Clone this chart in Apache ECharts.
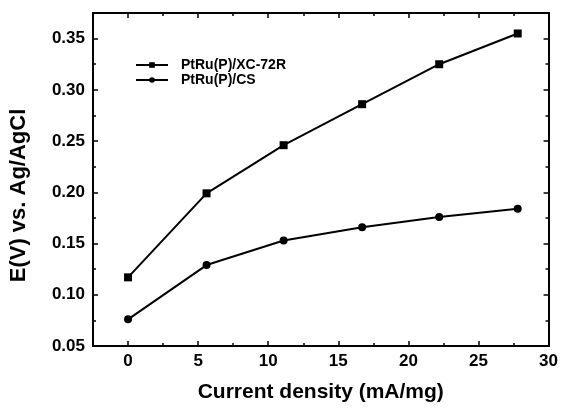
<!DOCTYPE html>
<html>
<head>
<meta charset="utf-8">
<script src="https://cdn.jsdelivr.net/npm/echarts@6/dist/echarts.min.js"></script>
<style>html,body{margin:0;padding:0;background:#fff}#c{width:561px;height:408px}</style>
</head>
<body>
<div id="c"></div>
<script>
const xValues = [0, 5.6, 11.1, 16.7, 22.2, 27.8];
const seriesXC72R = [0.117, 0.199, 0.246, 0.286, 0.325, 0.355];
const seriesCS = [0.076, 0.129, 0.153, 0.166, 0.176, 0.184];
const seriesNames = ['PtRu(P)/XC-72R', 'PtRu(P)/CS'];
const xTicks = [0, 5, 10, 15, 20, 25, 30];
const xMinorTicks = [-2.5, 2.5, 7.5, 12.5, 17.5, 22.5, 27.5];
const yTicks = [0.05, 0.10, 0.15, 0.20, 0.25, 0.30, 0.35];
const yMinorTicks = [0.075, 0.125, 0.175, 0.225, 0.275, 0.325, 0.375];

const FONT = 'Liberation Sans, Arial, sans-serif';
const X_MIN = -2.5, X_MAX = 30, Y_MIN = 0.05, Y_MAX = 0.375;

function xAx(pos, vals, len, opts) {
  return Object.assign({
    type: 'value', position: pos, min: X_MIN, max: X_MAX,
    axisLine: { show: true, onZero: false, lineStyle: { color: '#000', width: 2 } },
    axisTick: { show: true, inside: true, length: len, customValues: vals, lineStyle: { color: '#000', width: 1.5 } },
    axisLabel: { show: false },
    splitLine: { show: false }
  }, opts || {});
}
function yAx(pos, vals, len, opts) {
  return Object.assign({
    type: 'value', position: pos, min: Y_MIN, max: Y_MAX,
    axisLine: { show: true, onZero: false, lineStyle: { color: '#000', width: 2 } },
    axisTick: { show: true, inside: true, length: len, customValues: vals, lineStyle: { color: '#000', width: 1.5 } },
    axisLabel: { show: false },
    splitLine: { show: false }
  }, opts || {});
}

const chart = echarts.init(document.getElementById('c'), null, { renderer: 'canvas' });
chart.setOption({
  animation: false,
  backgroundColor: '#fff',
  grid: { left: 92, right: 10, top: 13, bottom: 58, containLabel: false },
  legend: {
    left: 135, top: 58, orient: 'vertical', padding: 0,
    itemWidth: 32, itemHeight: 7, itemGap: 1,
    textStyle: { fontFamily: FONT, fontSize: 14, fontWeight: 'bold', color: '#000', padding: [0, 0, 0, 8] },
    data: seriesNames
  },
  xAxis: [
    xAx('bottom', xTicks, 5, {
      name: 'Current density (mA/mg)', nameLocation: 'middle', nameGap: 36,
      nameTextStyle: { fontFamily: FONT, fontSize: 21, fontWeight: 'bold', color: '#000' },
      axisLabel: { show: true, customValues: xTicks, margin: 7, fontFamily: FONT, fontSize: 17, fontWeight: 'bold', color: '#000' }
    }),
    xAx('bottom', xMinorTicks, 3),
    xAx('top', xTicks, 5),
    xAx('top', xMinorTicks, 3)
  ],
  yAxis: [
    yAx('left', yTicks, 5, {
      name: 'E(V) vs. Ag/AgCl', nameLocation: 'middle', nameGap: 63, nameRotate: 90,
      nameTextStyle: { fontFamily: FONT, fontSize: 22, fontWeight: 'bold', color: '#000', padding: [0, 32, 0, 0] },
      axisLabel: { show: true, customValues: yTicks, margin: 8, fontFamily: FONT, fontSize: 17, fontWeight: 'bold', color: '#000',
        formatter: v => v.toFixed(2) }
    }),
    yAx('left', yMinorTicks, 3),
    yAx('right', yTicks, 5),
    yAx('right', yMinorTicks, 3)
  ],
  series: [
    {
      name: seriesNames[0], type: 'line', xAxisIndex: 0, yAxisIndex: 0,
      data: xValues.map((x, i) => [x, seriesXC72R[i]]),
      symbol: 'rect', symbolSize: 8,
      lineStyle: { color: '#000', width: 2 },
      itemStyle: { color: '#000' }
    },
    {
      name: seriesNames[1], type: 'line', xAxisIndex: 0, yAxisIndex: 0,
      data: xValues.map((x, i) => [x, seriesCS[i]]),
      symbol: 'circle', symbolSize: 8,
      lineStyle: { color: '#000', width: 2 },
      itemStyle: { color: '#000' }
    }
  ]
});
</script>
</body>
</html>
